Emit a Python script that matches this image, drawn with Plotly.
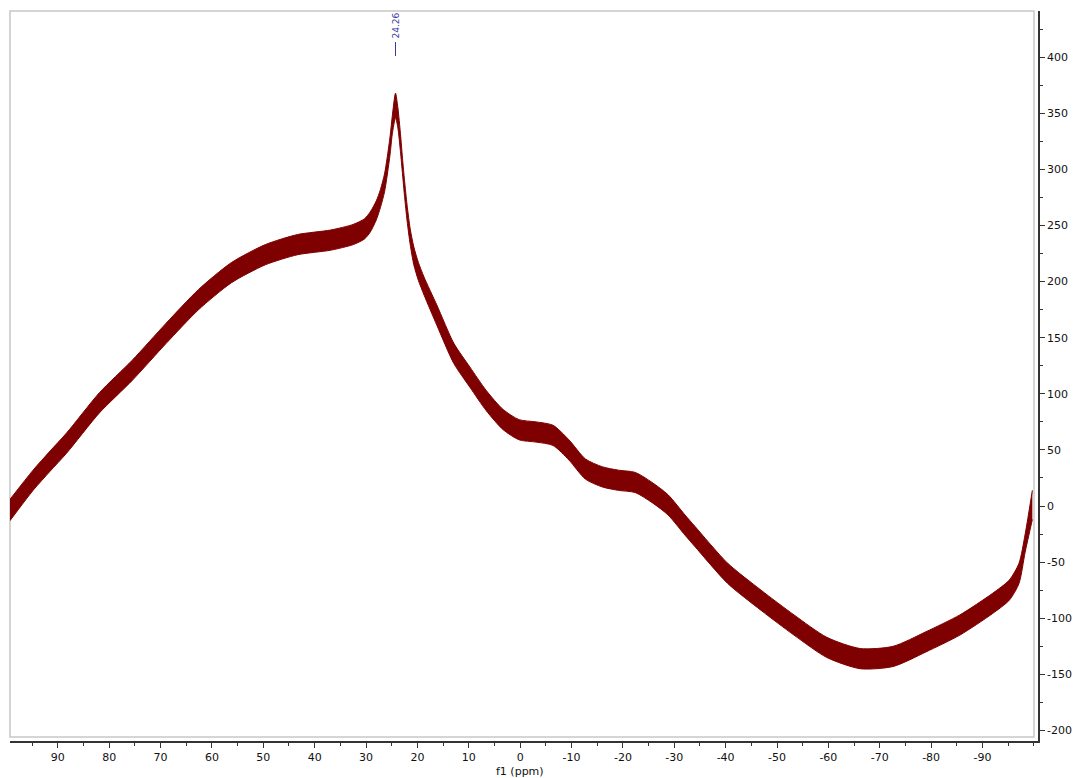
import plotly.graph_objects as go

# Chemical shift (ppm) sampled along the spectrum, high to low
ppm = [99.3, 94.8, 91.5, 88.3, 81.9, 75.5, 68.9, 62.6, 56.2, 49.6, 43.3, 36.9,
       32.5, 30.3, 29.2, 28.0, 27.2, 26.4, 25.9, 25.3, 24.9, 24.26, 23.8, 23.3,
       22.9, 22.5, 22.0, 21.4, 20.7, 19.8, 18.7, 16.2,
       12.9, 9.8, 6.6, 3.3, 0.2, -3.1, -6.4, -9.5, -12.7, -16.0, -19.1, -22.4,
       -25.7, -28.8, -32.1, -34.0, -40.4, -46.9, -53.3, -59.7, -66.2, -72.6,
       -79.0, -85.6, -91.9, -95.2, -97.1, -98.3, -99.7]

# Upper and lower edges of the noisy trace (intensity)
upper = [6, 32, 49, 65, 101, 130, 163, 193, 217, 233, 242, 246,
         251, 256, 262, 272, 282, 296, 310, 330, 347, 368, 355, 332,
         310, 290, 268, 247, 231, 217, 204, 179,
         145, 124, 103, 86, 77, 75, 72, 59, 42, 35, 32, 30,
         21, 10, -8, -18, -51, -75, -97, -117, -127, -125,
         -112, -97, -78, -66, -51, -25, 14]
lower = [-13, 14, 31, 47, 83, 112, 145, 175, 199, 215, 224, 228,
         233, 238, 244, 255, 266, 280, 294, 314, 331, 346, 337, 316,
         296, 276, 254, 233, 215, 201, 188, 161,
         127, 106, 85, 68, 59, 57, 54, 41, 24, 17, 14, 12,
         3, -8, -26, -36, -69, -93, -115, -135, -145, -143,
         -130, -115, -96, -84, -69, -41, -12]

x_tick_vals = [90, 80, 70, 60, 50, 40, 30, 20, 10, 0, -10, -20, -30, -40, -50,
               -60, -70, -80, -90]
x_tick_text = ["90", "80", "70", "60", "50", "40", "30", "20", "10", "0", "-10",
               "-20", "-30", "-40", "-50", "-60", "-70", "-80", "-90"]
y_tick_vals = [400, 350, 300, 250, 200, 150, 100, 50, 0, -50, -100, -150, -200]
y_tick_text = ["400", "350", "300", "250", "200", "150", "100", "50", "0", "-50",
               "-100", "-150", "-200"]

peak_ppm = 24.26
peak_label = "24.26"

TRACE = "#7f0000"
TICK_FONT = dict(family="DejaVu Sans", size=11, color="#111111")

fig = go.Figure()
fig.add_trace(go.Scatter(x=ppm, y=lower, mode="lines",
                         line=dict(color=TRACE, width=1, shape="spline",
                                   smoothing=0.7),
                         hoverinfo="skip", showlegend=False))
fig.add_trace(go.Scatter(x=ppm, y=upper, mode="lines", fill="tonexty",
                         fillcolor=TRACE,
                         line=dict(color=TRACE, width=1, shape="spline",
                                   smoothing=0.7),
                         showlegend=False))

# light frame around the spectrum area
fig.add_shape(type="rect", xref="paper", yref="paper",
              x0=0.0, x1=0.9961, y0=0.0055, y1=1.0,
              line=dict(color="#c8c8c8", width=1.5), layer="below")

# peak pick marker
fig.add_shape(type="line", xref="x", yref="paper", x0=peak_ppm, x1=peak_ppm,
              y0=(741 - 56) / 730, y1=(741 - 42) / 730,
              line=dict(color="#3a3a9a", width=1))
fig.add_annotation(x=peak_ppm, xref="x", y=(741 - 41) / 730, yref="paper",
                   text=peak_label, textangle=-90, showarrow=False,
                   yanchor="bottom", xanchor="center",
                   font=dict(family="DejaVu Sans", size=9, color="#3a3a9a"))

# axis title
fig.add_annotation(x=0, xref="x", y=(741 - 771) / 730, yref="paper",
                   text="f1 (ppm)", showarrow=False, yanchor="middle",
                   font=TICK_FONT)

fig.update_layout(
    width=1082, height=778,
    margin=dict(l=10, r=36, t=11, b=37),
    paper_bgcolor="white", plot_bgcolor="white",
    xaxis=dict(range=[99.3, -100.8], tickvals=x_tick_vals, ticktext=x_tick_text,
               ticks="outside", ticklen=5, tickcolor="#333333",
               showline=True, linecolor="#333333", linewidth=1.5,
               showgrid=False, zeroline=False, tickfont=TICK_FONT,
               minor=dict(ticks="outside", dtick=5, ticklen=3,
                          tickcolor="#333333", showgrid=False)),
    yaxis=dict(range=[-209.4, 441.2], side="right", tickvals=y_tick_vals,
               ticktext=y_tick_text, ticks="outside", ticklen=5,
               tickcolor="#333333", showline=True, linecolor="#333333",
               linewidth=1.5, showgrid=False, zeroline=False,
               tickfont=TICK_FONT,
               minor=dict(ticks="outside", dtick=25, ticklen=3,
                          tickcolor="#333333", showgrid=False)),
)

fig.write_html("out.html")
